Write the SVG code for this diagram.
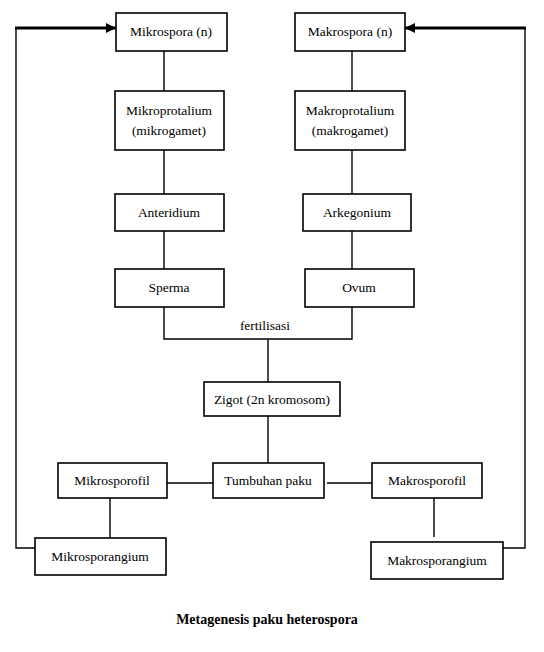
<svg xmlns="http://www.w3.org/2000/svg" width="544" height="652" viewBox="0 0 544 652" font-family="'Liberation Serif', 'Times New Roman', 'DejaVu Serif', serif">
<defs>
<style>
.box{fill:#fff;stroke:#000;stroke-width:1.6}
.t{font-family:'Liberation Serif','Times New Roman','DejaVu Serif',serif;font-size:13.5px;fill:#000;text-anchor:middle}
.ln{fill:none;stroke:#000;stroke-width:1.4}
.thick{fill:none;stroke:#000;stroke-width:3}
</style>
<marker id="ah" viewBox="0 0 10 10" refX="10" refY="5" markerWidth="10" markerHeight="10" markerUnits="userSpaceOnUse" orient="auto">
<path d="M0,0 L10,5 L0,10 z" fill="#000"/>
</marker>
</defs>
<rect width="544" height="652" fill="#fff"/>
<g id="connectors">
<line class="ln" x1="164" y1="51" x2="164" y2="91"/>
<line class="ln" x1="164" y1="150" x2="164" y2="194"/>
<line class="ln" x1="164" y1="231" x2="164" y2="269"/>
<line class="ln" x1="352" y1="51" x2="352" y2="91"/>
<line class="ln" x1="352" y1="150" x2="352" y2="194"/>
<line class="ln" x1="352" y1="231" x2="352" y2="269"/>
<polyline class="ln" points="164,307 164,339 352,339 352,307"/>
<line class="ln" x1="268" y1="339" x2="268" y2="384"/>
<line class="ln" x1="268" y1="416" x2="268" y2="463"/>
<line class="ln" x1="167" y1="483" x2="213" y2="483"/>
<line class="ln" x1="327" y1="483" x2="372" y2="483"/>
<line class="ln" x1="110" y1="498" x2="110" y2="538"/>
<line class="ln" x1="434" y1="498" x2="434" y2="537"/>
<polyline class="ln" points="35,548 16,548 16,28"/>
<line class="thick" x1="15" y1="28" x2="116" y2="28" marker-end="url(#ah)"/>
<polyline class="ln" points="503,548 525,548 525,28"/>
<line class="thick" x1="526" y1="28" x2="405" y2="28" marker-end="url(#ah)"/>
<text class="t" x="265" y="330">fertilisasi</text>
</g>
<g id="mikrospora"><rect class="box" x="116" y="13" width="111" height="38"/><text class="t" x="171" y="36">Mikrospora (n)</text></g>
<g id="makrospora"><rect class="box" x="295" y="13" width="110" height="38"/><text class="t" x="350" y="36">Makrospora (n)</text></g>
<g id="mikroprotalium"><rect class="box" x="115" y="91" width="109" height="59"/><text class="t" x="169" y="115">Mikroprotalium</text><text class="t" x="169" y="135">(mikrogamet)</text></g>
<g id="makroprotalium"><rect class="box" x="295" y="91" width="110" height="59"/><text class="t" x="350" y="115">Makroprotalium</text><text class="t" x="350" y="135">(makrogamet)</text></g>
<g id="anteridium"><rect class="box" x="115" y="194" width="109" height="37"/><text class="t" x="169" y="217">Anteridium</text></g>
<g id="arkegonium"><rect class="box" x="303" y="194" width="108" height="37"/><text class="t" x="357" y="217">Arkegonium</text></g>
<g id="sperma"><rect class="box" x="115" y="269" width="109" height="38"/><text class="t" x="169" y="292">Sperma</text></g>
<g id="ovum"><rect class="box" x="305" y="269" width="109" height="38"/><text class="t" x="359" y="292">Ovum</text></g>
<g id="zigot"><rect class="box" x="204" y="382" width="136" height="34"/><text class="t" x="272" y="404">Zigot (2n kromosom)</text></g>
<g id="tumbuhan"><rect class="box" x="213" y="463" width="111" height="35"/><text class="t" x="268" y="485">Tumbuhan paku</text></g>
<g id="mikrosporofil"><rect class="box" x="58" y="463" width="109" height="35"/><text class="t" x="112" y="485">Mikrosporofil</text></g>
<g id="makrosporofil"><rect class="box" x="372" y="463" width="110" height="35"/><text class="t" x="427" y="485">Makrosporofil</text></g>
<g id="mikrosporangium"><rect class="box" x="35" y="538" width="131" height="37"/><text class="t" x="100" y="561">Mikrosporangium</text></g>
<g id="makrosporangium"><rect class="box" x="371" y="542" width="132" height="37"/><text class="t" x="437" y="565">Makrosporangium</text></g>
<text id="caption" class="t" x="267" y="624" style="font-size:14px;font-weight:bold">Metagenesis paku heterospora</text>
</svg>
